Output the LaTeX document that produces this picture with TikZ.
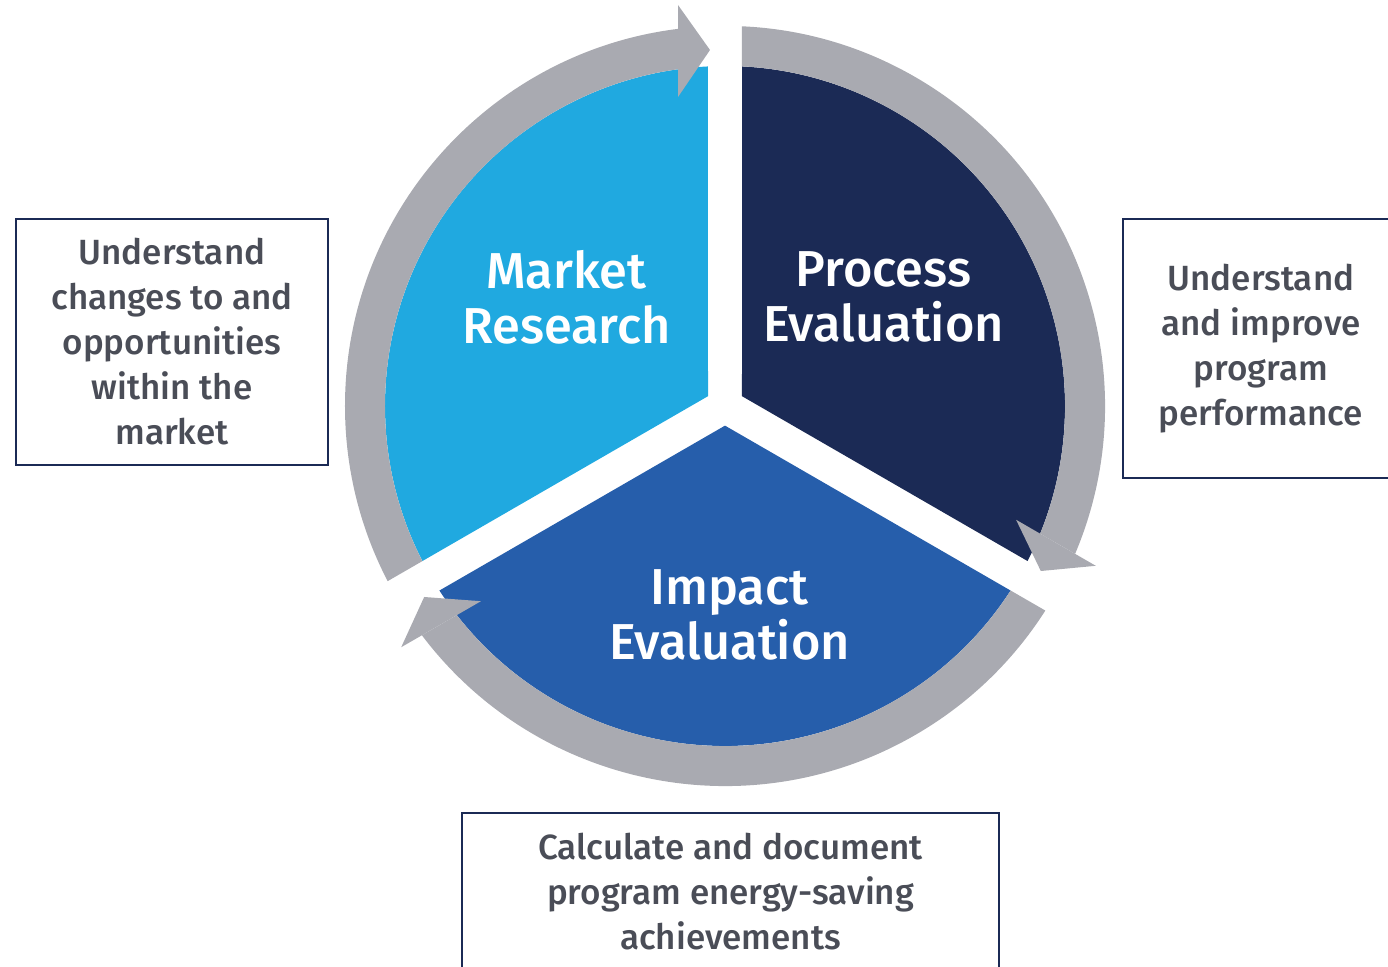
\documentclass[tikz,border=0pt]{standalone}
\usepackage{fontspec}
\setmainfont{Fira Sans Medium}
\definecolor{marketblue}{RGB}{32,169,224}
\definecolor{processnavy}{RGB}{27,42,85}
\definecolor{impactblue}{RGB}{38,94,171}
\definecolor{ringgray}{RGB}{169,170,177}
\definecolor{notegray}{RGB}{74,77,87}
\definecolor{noteframe}{RGB}{27,42,85}
\tikzset{
  sectorlabel/.style={text=white, align=center, inner sep=0pt,
    font=\fontsize{50.5}{55}\selectfont},
  notebox/.style={draw=noteframe, line width=1.8pt, text=notegray, align=center,
    inner sep=0pt, font=\fontsize{35}{45}\selectfont},
}
\begin{document}
\begin{tikzpicture}[x=1pt,y=1pt]
\useasboundingbox (-725,-560) rectangle (663,406);
\clip (-725,-560) rectangle (663,406);

% three wedges of the cycle, separated by straight gaps
\foreach \ang/\col in {0/marketblue,-120/processnavy,120/impactblue}{
  \begin{scope}[rotate=\ang]
    \fill[\col] (-17,9.81) -- (92.87:340) arc[start angle=92.87,end angle=207.13,radius=340] -- cycle;
  \end{scope}
}

% grey ring arrows running clockwise round each wedge
\foreach \ang in {0,-120,120}{
  \begin{scope}[rotate=\ang]
    \begin{scope}
      \clip (-47,500) -- (-47,-7.51) -- (-623.2,-340.2) -- (-700,-340.2) -- (-700,500) -- cycle;
      \fill[ringgray,even odd rule] (0,0) circle[radius=380] (0,0) circle[radius=340];
    \end{scope}
    \fill[ringgray] (-47,401) -- (-15,356) -- (-47,309) -- cycle;
  \end{scope}
}

% wedge titles
\node[sectorlabel] (market) at (-158.5,109) {Market\\Research};
\node[sectorlabel] (process) at (158.5,109) {Process\\Evaluation};
\node[sectorlabel] (impact) at (4.5,-209) {Impact\\Evaluation};

% explanatory notes
\node[notebox, minimum width=312pt, minimum height=246pt] (marketnote) at (-553,64)
  {Understand\\changes to and\\opportunities\\within the\\market};
\node[notebox, minimum width=276pt, minimum height=259pt] (processnote) at (536,57.5)
  {Understand\\and improve\\program\\performance};
\node[notebox, minimum width=537pt, minimum height=158pt] (impactnote) at (5.5,-486)
  {Calculate and document\\program energy-saving\\achievements};
\end{tikzpicture}
\end{document}
